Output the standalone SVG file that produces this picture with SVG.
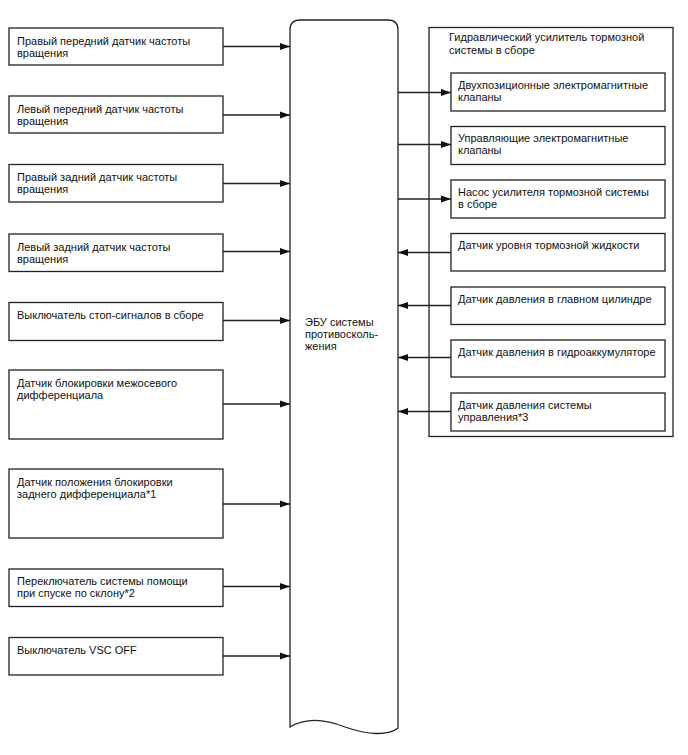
<svg xmlns="http://www.w3.org/2000/svg" width="688" height="755" viewBox="0 0 688 755">
<style>
.box{fill:#fff;stroke:#222;stroke-width:1.3}
.t{font-family:"Liberation Sans",Arial,sans-serif;font-size:11px;fill:#111}
.ln{stroke:#222;stroke-width:1.3;fill:none}
</style>
<defs>
<marker id="ah" markerWidth="10" markerHeight="8" refX="10" refY="4" orient="auto" markerUnits="userSpaceOnUse">
<path d="M0,0.5 L10,4 L0,7.5 Z" fill="#111"/>
</marker>
</defs>
<rect width="688" height="755" fill="#fff"/>
<g id="ecu">
<path class="box" d="M290,727 L290,30 Q290,20 300,20 L388,20 Q398,20 398,30 L398,728 C388,736 368,735 345,727 C325,719 305,718 290,727 Z"/>
<text class="t" x="305" y="326">ЭБУ системы</text>
<text class="t" x="305" y="338">противосколь-</text>
<text class="t" x="305" y="350">жения</text>
</g>
<g id="n1"><rect class="box" x="9" y="28" width="214" height="37"/><text class="t" x="17" y="44.5">Правый передний датчик частоты</text><text class="t" x="17" y="56.5">вращения</text></g>
<g id="n2"><rect class="box" x="9" y="96" width="214" height="37"/><text class="t" x="17" y="112.5">Левый передний датчик частоты</text><text class="t" x="17" y="124.5">вращения</text></g>
<g id="n3"><rect class="box" x="9" y="164.5" width="214" height="37.5"/><text class="t" x="17" y="181">Правый задний датчик частоты</text><text class="t" x="17" y="193">вращения</text></g>
<g id="n4"><rect class="box" x="9" y="234" width="214" height="37.5"/><text class="t" x="17" y="250.5">Левый задний датчик частоты</text><text class="t" x="17" y="262.5">вращения</text></g>
<g id="n5"><rect class="box" x="9" y="302.5" width="214" height="38"/><text class="t" x="17" y="319">Выключатель стоп-сигналов в сборе</text></g>
<g id="n6"><rect class="box" x="9" y="370" width="214" height="69"/><text class="t" x="17" y="386.5">Датчик блокировки межосевого</text><text class="t" x="17" y="398.5">дифференциала</text></g>
<g id="n7"><rect class="box" x="9" y="469" width="214" height="69"/><text class="t" x="17" y="485.5">Датчик положения блокировки</text><text class="t" x="17" y="497.5">заднего дифференциала*1</text></g>
<g id="n8"><rect class="box" x="9" y="569" width="214" height="37.5"/><text class="t" x="17" y="585">Переключатель системы помощи</text><text class="t" x="17" y="597">при спуске по склону*2</text></g>
<g id="n9"><rect class="box" x="9" y="637.5" width="214" height="37.5"/><text class="t" x="17" y="654">Выключатель VSC OFF</text></g>
<g id="hydro">
<rect class="box" x="429" y="27.5" width="244" height="409"/>
<text class="t" x="449" y="41">Гидравлический усилитель тормозной</text>
<text class="t" x="449" y="53.5">системы в сборе</text>
</g>
<g id="r1"><rect class="box" x="451" y="73" width="214" height="38"/><text class="t" x="458" y="88.5">Двухпозиционные электромагнитные</text><text class="t" x="458" y="100.5">клапаны</text></g>
<g id="r2"><rect class="box" x="451" y="126.5" width="214" height="38"/><text class="t" x="458" y="142">Управляющие электромагнитные</text><text class="t" x="458" y="154">клапаны</text></g>
<g id="r3"><rect class="box" x="451" y="180" width="214" height="38"/><text class="t" x="458" y="195.5">Насос усилителя тормозной системы</text><text class="t" x="458" y="207.5">в сборе</text></g>
<g id="r4"><rect class="box" x="451" y="233.5" width="214" height="37.5"/><text class="t" x="458" y="249">Датчик уровня тормозной жидкости</text></g>
<g id="r5"><rect class="box" x="451" y="287" width="214" height="37.5"/><text class="t" x="458" y="302.5">Датчик давления в главном цилиндре</text></g>
<g id="r6"><rect class="box" x="451" y="340" width="214" height="37"/><text class="t" x="458" y="355.5">Датчик давления в гидроаккумуляторе</text></g>
<g id="r7"><rect class="box" x="451" y="393" width="214" height="38"/><text class="t" x="458" y="408.5">Датчик давления системы</text><text class="t" x="458" y="420.5">управления*3</text></g>
<g id="connectors" class="ln" marker-end="url(#ah)">
<line x1="223" y1="46.5" x2="290" y2="46.5"/>
<line x1="223" y1="115" x2="290" y2="115"/>
<line x1="223" y1="183.5" x2="290" y2="183.5"/>
<line x1="223" y1="251.5" x2="290" y2="251.5"/>
<line x1="223" y1="320.5" x2="290" y2="320.5"/>
<line x1="223" y1="404" x2="290" y2="404"/>
<line x1="223" y1="504" x2="290" y2="504"/>
<line x1="223" y1="586.5" x2="290" y2="586.5"/>
<line x1="223" y1="656" x2="290" y2="656"/>
<line x1="398" y1="92.5" x2="451" y2="92.5"/>
<line x1="398" y1="144.5" x2="451" y2="144.5"/>
<line x1="398" y1="199" x2="451" y2="199"/>
<line x1="451" y1="252.5" x2="398" y2="252.5"/>
<line x1="451" y1="305.5" x2="398" y2="305.5"/>
<line x1="451" y1="357.5" x2="398" y2="357.5"/>
<line x1="451" y1="411.5" x2="398" y2="411.5"/>
</g>
</svg>
